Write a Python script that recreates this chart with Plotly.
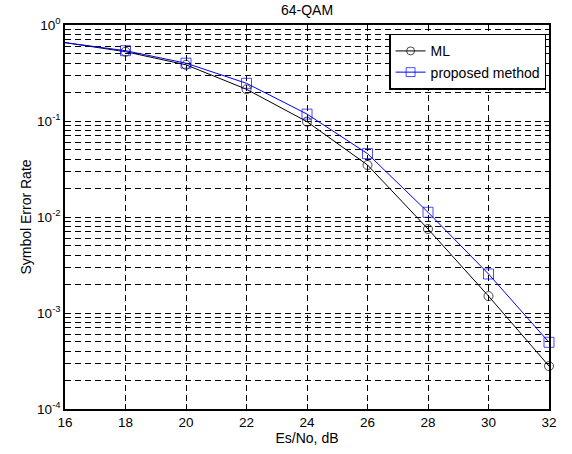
import plotly.graph_objects as go

snr_db = [16, 18, 20, 22, 24, 26, 28, 30, 32]
ser_ml = [0.655, 0.527, 0.385, 0.214, 0.0984, 0.0348, 0.0075, 0.0015, 0.00028]
ser_proposed = [0.655, 0.54, 0.40, 0.247, 0.118, 0.0457, 0.0112, 0.00255, 0.000495]

x_ticks = [16, 18, 20, 22, 24, 26, 28, 30, 32]
y_ticks = [1e-4, 1e-3, 1e-2, 1e-1, 1]
y_ticktext = ["10<sup>-4</sup>", "10<sup>-3</sup>", "10<sup>-2</sup>", "10<sup>-1</sup>", "10<sup>0</sup>"]
y_minor = [m * 10 ** e for e in range(-4, 0) for m in range(2, 10)]

FONT = "Liberation Sans, Arial, Helvetica, sans-serif"
ml_sizes = [0] + [9] * (len(snr_db) - 1)
pm_sizes = [0] + [10] * (len(snr_db) - 1)

fig = go.Figure()
fig.add_trace(go.Scatter(
    x=snr_db, y=ser_ml, name="ML", mode="lines+markers",
    line=dict(color="black", width=1),
    marker=dict(symbol="circle-open", size=ml_sizes, color="black", line=dict(width=1)),
    cliponaxis=False,
))
fig.add_trace(go.Scatter(
    x=snr_db, y=ser_proposed, name="proposed method", mode="lines+markers",
    line=dict(color="blue", width=1),
    marker=dict(symbol="square-open", size=pm_sizes, color="blue", line=dict(width=1)),
    cliponaxis=False,
))

grid = dict(gridcolor="black", gridwidth=1, griddash="6px,4px")

fig.update_layout(
    width=572, height=454,
    margin=dict(l=65, r=23, t=25, b=45),
    paper_bgcolor="white", plot_bgcolor="white",
    font=dict(family=FONT, size=13, color="black"),
    title=dict(text="64-QAM", x=0.5, xref="paper", xanchor="center",
               y=1 - 10 / 454, yref="container", yanchor="middle",
               font=dict(family=FONT, size=14, color="black")),
    showlegend=True,
    legend=dict(x=0.994, y=0.977, xanchor="right", yanchor="top",
                bgcolor="white", bordercolor="black", borderwidth=1.5,
                font=dict(family=FONT, size=14), tracegroupgap=0),
)
fig.update_xaxes(
    range=[16, 32], tickvals=x_ticks, ticktext=[str(v) for v in x_ticks],
    showline=True, linecolor="black", linewidth=1.5, mirror="ticks",
    ticks="inside", ticklen=5, tickcolor="black", automargin=False,
    showgrid=True, zeroline=False, **grid,
    title=dict(text="Es/No, dB", standoff=0, font=dict(size=14)),
    tickfont=dict(size=13.5),
)
fig.update_yaxes(
    type="log", range=[-4, 0], tickvals=y_ticks, ticktext=y_ticktext,
    showline=True, linecolor="black", linewidth=1.5, mirror="ticks",
    ticks="inside", ticklen=5, tickcolor="black", automargin=False,
    showgrid=True, zeroline=False, **grid,
    minor=dict(tickvals=y_minor, showgrid=True, gridcolor="black", gridwidth=1,
               griddash="6px,4px", ticks="inside", ticklen=3, tickcolor="black"),
    title=dict(text="Symbol Error Rate", standoff=2, font=dict(size=14)),
    tickfont=dict(size=13.5),
)

fig.write_html(
    "out.html",
    config={"displayModeBar": False},
    post_script="document.body.style.margin='0';document.body.style.padding='0';",
)
